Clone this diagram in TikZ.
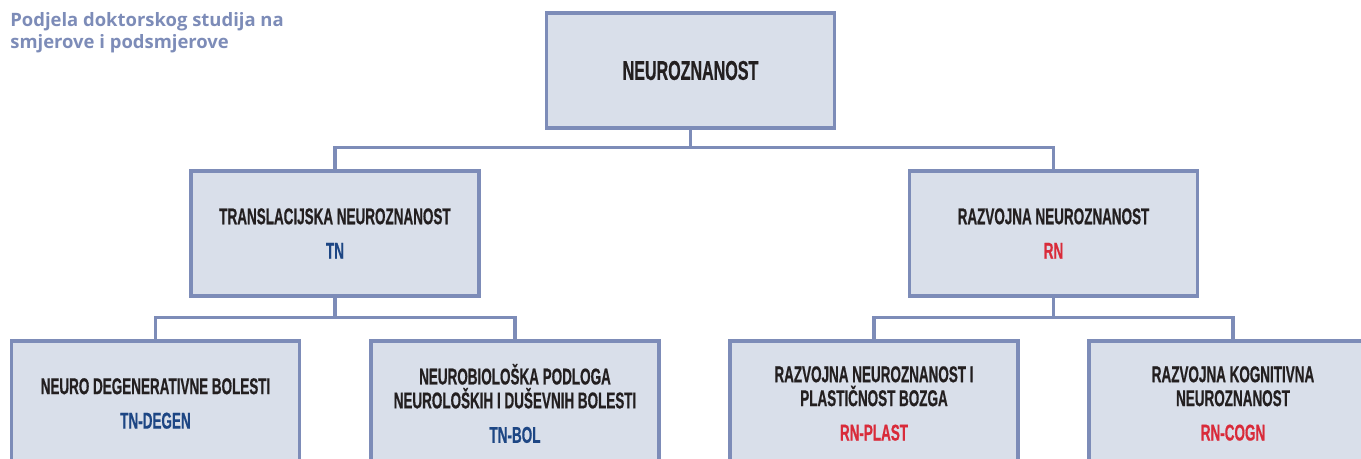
\documentclass[tikz,border=0pt]{standalone}
\usepackage{fontspec}
\setmainfont{Liberation Sans}
\newfontfamily\condfont[FakeStretch=0.59, FakeBold=0.6]{Liberation Sans Bold}
\newfontfamily\headfont{Open Sans}
\usepackage{tikz}
\usetikzlibrary{positioning}
\definecolor{frameBlue}{HTML}{7D8CB8}
\definecolor{boxFill}{HTML}{D9DFEA}
\definecolor{tnBlue}{HTML}{1D4684}
\definecolor{rnRed}{HTML}{D92B3A}
\definecolor{inkBlack}{HTML}{231F20}

\begin{document}
\begin{tikzpicture}[x=0.02cm, y=-0.02cm,
        box/.style={rectangle, draw=frameBlue, fill=boxFill, line width=1.9pt, minimum width=5.76cm, minimum height=2.5cm, align=center, text=inkBlack, inner sep=0pt, font=\condfont\fontsize{13}{13.6}\selectfont},
        link/.style={draw=frameBlue, line width=1.9pt}]
        \useasboundingbox (0,0) rectangle (1361,459);
        \clip (0,0) rectangle (1361,459);

        % Heading
        \node[anchor=north west, inner sep=0pt, align=left, text=frameBlue, font=\headfont\bfseries\fontsize{10.5}{12.4}\selectfont] (heading) at (10,12) {Podjela doktorskog studija na\\smjerove i podsmjerove};

        % Level 0
        \node[box, minimum height=2.3cm, font=\condfont\fontsize{15.5}{16}\selectfont] (neuro) at (690.5,70.5) {NEUROZNANOST};

        % Level 1: smjerovi
        \node[box] (tn) at (335,233.5) {TRANSLACIJSKA NEUROZNANOST\\[6pt]{\color{tnBlue}TN}};
        \node[box] (rn) at (1053.5,233.5) {RAZVOJNA NEUROZNANOST\\[6pt]{\color{rnRed}RN}};

        % Level 2: podsmjerovi
        \node[box] (tndegen) at (155.5,403.5) {NEURO DEGENERATIVNE BOLESTI\\[6pt]{\color{tnBlue}TN-DEGEN}};
        \node[box] (tnbol) at (515,403.5) {NEUROBIOLOŠKA PODLOGA\\NEUROLOŠKIH I DUŠEVNIH BOLESTI\\[6pt]{\color{tnBlue}TN-BOL}};
        \node[box] (rnplast) at (874,403.5) {RAZVOJNA NEUROZNANOST I\\PLASTIČNOST BOZGA\\[6pt]{\color{rnRed}RN-PLAST}};
        \node[box] (rncogn) at (1233,403.5) {RAZVOJNA KOGNITIVNA\\NEUROZNANOST\\[6pt]{\color{rnRed}RN-COGN}};

        % Connectors
        \draw[link] (neuro.south) -- ++(0,18) -| (tn.north);
        \draw[link] (neuro.south) -- ++(0,18) -| (rn.north);
        \draw[link] (tn.south) -- ++(0,20) -| (tndegen.north);
        \draw[link] (tn.south) -- ++(0,20) -| (tnbol.north);
        \draw[link] (rn.south) -- ++(0,20) -| (rnplast.north);
        \draw[link] (rn.south) -- ++(0,20) -| (rncogn.north);
    \end{tikzpicture}
\end{document}
